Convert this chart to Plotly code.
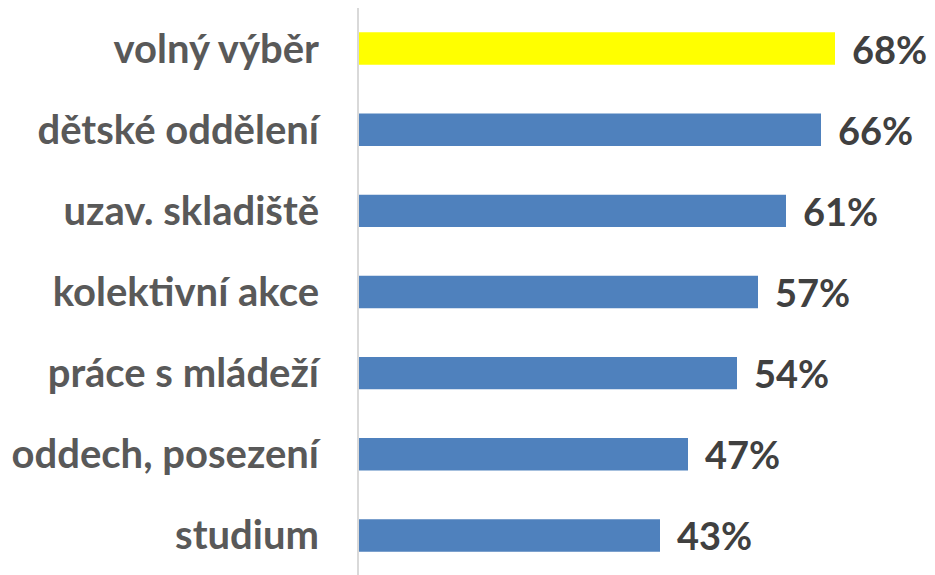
import plotly.graph_objects as go

categories = ["volný výběr", "dětské oddělení", "uzav. skladiště", "kolektivní akce",
              "práce s mládeží", "oddech, posezení", "studium"]
values = [68, 66, 61, 57, 54, 47, 43]
labels = ["68%", "66%", "61%", "57%", "54%", "47%", "43%"]
colors = ["#FFFF00"] + ["#4F81BD"] * 6

fig = go.Figure(go.Bar(
    x=values, y=categories, orientation="h",
    marker=dict(color=colors, line=dict(width=0)),
    hoverinfo="skip",
))

for c, v, t in zip(categories, values, labels):
    fig.add_annotation(x=v, y=c, text=t, showarrow=False, xanchor="left", xshift=15,
                       font=dict(family="Lato", size=38, color="#404040", weight="bold"))

fig.update_layout(
    width=935, height=575,
    margin=dict(l=351, r=3, t=0, b=7, autoexpand=False),
    plot_bgcolor="white", paper_bgcolor="white",
    bargap=0.6, showlegend=False,
)
fig.update_xaxes(range=[0, 83], showgrid=False, zeroline=False, showticklabels=False,
                 showline=False, automargin=False)
fig.update_yaxes(autorange="reversed", showgrid=False, zeroline=False,
                 showline=True, linecolor="#D9D9D9", linewidth=2,
                 ticks="", ticklabelstandoff=30, automargin=False,
                 tickfont=dict(family="Lato", size=40, color="#595959", weight="bold"))

fig.write_html("out.html")
